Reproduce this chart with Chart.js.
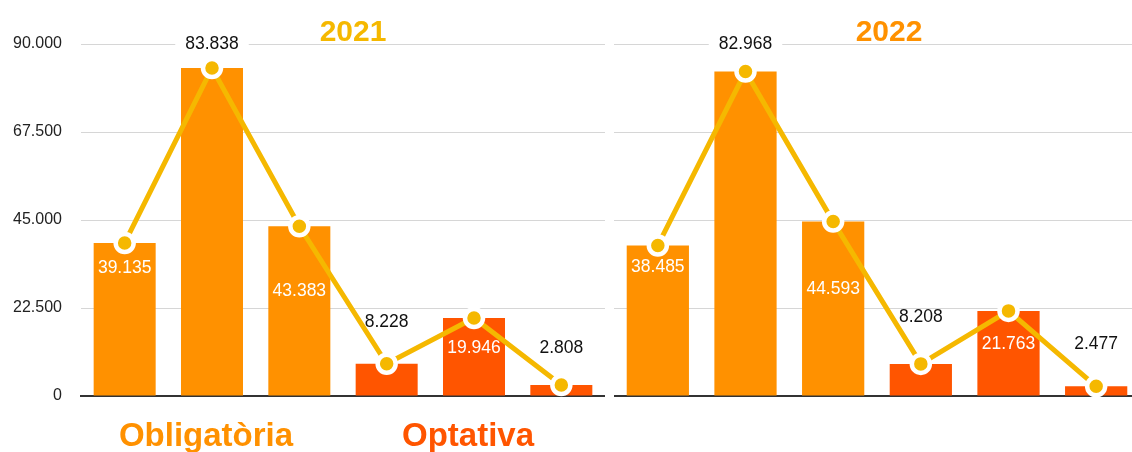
<!DOCTYPE html>
<html>
<head>
<meta charset="utf-8">
<script src="https://cdn.jsdelivr.net/npm/chart.js@4.4.1/dist/chart.umd.min.js"></script>
<style>
    html, body { margin: 0; padding: 0; background: #fff; overflow: hidden; width: 1132px; height: 452px; }
    .panel { position: absolute; top: 0; height: 470px; }
    #left { left: 0; width: 605px; }
    #right { left: 614px; width: 526px; }
</style>
</head>
<body>
<div class="panel" id="left"><canvas id="chart2021"></canvas></div>
<div class="panel" id="right"><canvas id="chart2022"></canvas></div>
<script>
// Data
const groupLabels2021 = ['', 'Obligatòria', '', '', 'Optativa', ''];
const groupLabels2022 = ['', '', '', '', '', ''];
const values2021 = [39135, 83838, 43383, 8228, 19946, 2808];
const values2022 = [38485, 82968, 44593, 8208, 21763, 2477];
const yTicks = [0, 22500, 45000, 67500, 90000];

const FONT = '"Liberation Sans", Arial, Helvetica, sans-serif';
const ORANGE = '#FF9100';
const RED = '#FF5500';
const GOLD = '#F5B800';
const barColors = [ORANGE, ORANGE, ORANGE, RED, RED, RED];
const groupColors = [ORANGE, ORANGE, ORANGE, RED, RED, RED];

const fmt = v => String(v).replace(/\B(?=(\d{3})+(?!\d))/g, '.');

// value labels: 'in' = white inside bar, 'above' = black above the point, 'top' = black on the top gridline
const valueLabels = {
    id: 'valueLabels',
    afterDatasetsDraw(chart, args, opts) {
        const { ctx, chartArea } = chart;
        const meta = chart.getDatasetMeta(1);
        const yScale = chart.scales.y;
        ctx.save();
        ctx.font = '17.5px ' + FONT;
        ctx.textAlign = 'center';
        ctx.textBaseline = 'middle';
        opts.values.forEach((v, i) => {
            const x = meta.data[i].x;
            const mode = opts.modes[i];
            const text = fmt(v);
            let y;
            if (mode === 'top') {
                y = chartArea.top;
                const w = ctx.measureText(text).width + 20;
                ctx.fillStyle = '#fff';
                ctx.fillRect(x - w / 2, y - 11, w, 22);
            } else {
                y = yScale.getPixelForValue(v) + opts.offsets[i];
            }
            ctx.fillStyle = mode === 'in' ? '#fff' : '#111';
            ctx.fillText(text, x, y);
        });
        ctx.restore();
    }
};

const panelTitle = {
    id: 'panelTitle',
    afterDraw(chart, args, opts) {
        const { ctx, chartArea } = chart;
        ctx.save();
        ctx.font = 'bold 30px ' + FONT;
        ctx.fillStyle = opts.color;
        ctx.textAlign = 'center';
        ctx.textBaseline = 'middle';
        ctx.fillText(opts.text, (chartArea.left + chartArea.right) / 2 + opts.shift, 33);
        ctx.restore();
    }
};

function makeChart(id, labels, values, opts) {
    return new Chart(document.getElementById(id), {
        type: 'bar',
        data: {
            labels: labels,
            datasets: [{
                type: 'line',
                data: values,
                order: 0,
                borderColor: GOLD,
                borderWidth: 5,
                tension: 0,
                pointRadius: 9,
                pointBorderWidth: 4.5,
                pointBorderColor: '#fff',
                pointBackgroundColor: GOLD,
                clip: false
            }, {
                type: 'bar',
                data: values,
                order: 1,
                backgroundColor: barColors,
                categoryPercentage: 1,
                barPercentage: 0.71
            }]
        },
        options: {
            responsive: true,
            maintainAspectRatio: false,
            animation: false,
            layout: { autoPadding: false, padding: { top: 44, right: 0, bottom: 0, left: 0 } },
            scales: {
                x: {
                    afterFit: s => { s.height = 74; },
                    grid: { display: false, drawTicks: false },
                    border: { display: true, color: '#333', width: 2 },
                    ticks: {
                        padding: 21,
                        labelOffset: -6,
                        autoSkip: false,
                        maxRotation: 0,
                        font: { family: FONT, size: 33, weight: 'bold' },
                        color: ctx => groupColors[ctx.index]
                    }
                },
                y: {
                    min: 0,
                    max: 90000,
                    afterFit: s => { s.width = opts.axisWidth; },
                    afterBuildTicks: s => { s.ticks = yTicks.map(v => ({ value: v })); },
                    grid: { color: '#d6d6d6', lineWidth: 1, drawTicks: false },
                    border: { display: false },
                    ticks: {
                        display: opts.showTicks,
                        padding: 19,
                        color: '#222',
                        font: { family: FONT, size: 16 },
                        callback: v => fmt(v)
                    }
                }
            },
            plugins: {
                legend: { display: false },
                tooltip: { enabled: false },
                valueLabels: { values: values, modes: opts.modes, offsets: opts.offsets },
                panelTitle: { text: opts.title, color: opts.titleColor, shift: opts.titleShift }
            }
        },
        plugins: [valueLabels, panelTitle]
    });
}

makeChart('chart2021', groupLabels2021, values2021, {
    axisWidth: 81, showTicks: true,
    title: '2021', titleColor: GOLD, titleShift: 10,
    modes: ['in', 'top', 'in', 'above', 'in', 'above'],
    offsets: [25, 0, 65, -42, 30, -37]
});

makeChart('chart2022', groupLabels2022, values2022, {
    axisWidth: 0, showTicks: false,
    title: '2022', titleColor: ORANGE, titleShift: 12,
    modes: ['in', 'top', 'in', 'above', 'in', 'above'],
    offsets: [22, 0, 68, -47, 33, -42]
});
</script>
</body>
</html>
